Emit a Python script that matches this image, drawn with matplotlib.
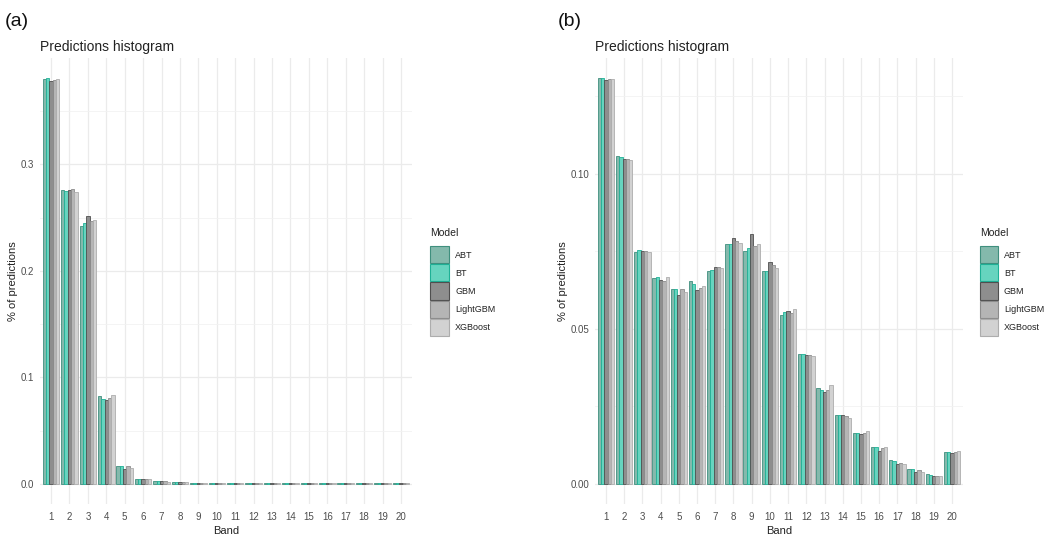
import numpy as np
import matplotlib
matplotlib.use("Agg")
import matplotlib.pyplot as plt
from matplotlib.patches import Rectangle

plt.rcParams['font.family'] = ['Liberation Sans', 'DejaVu Sans']

bands = list(range(1, 21))
models = ["ABT", "BT", "GBM", "LightGBM", "XGBoost"]

# panel (a) - share of predictions per band
a_abt = [0.380, 0.276, 0.242, 0.082, 0.017, 0.0045, 0.0025, 0.0015, 0.0008, 0.0005,
         0.0005, 0.0005, 0.0005, 0.0005, 0.0005, 0.0005, 0.0005, 0.0005, 0.0005, 0.0005]
a_bt = [0.381, 0.275, 0.245, 0.080, 0.017, 0.0045, 0.0025, 0.0015, 0.0008, 0.0005,
        0.0005, 0.0005, 0.0005, 0.0005, 0.0005, 0.0005, 0.0005, 0.0005, 0.0005, 0.0005]
a_gbm = [0.378, 0.276, 0.252, 0.079, 0.014, 0.0045, 0.0025, 0.0015, 0.0010, 0.0005,
         0.0005, 0.0005, 0.0005, 0.0005, 0.0005, 0.0005, 0.0005, 0.0005, 0.0005, 0.0005]
a_light = [0.379, 0.277, 0.247, 0.081, 0.017, 0.0045, 0.0025, 0.0012, 0.0008, 0.0005,
           0.0005, 0.0005, 0.0005, 0.0005, 0.0005, 0.0005, 0.0005, 0.0005, 0.0005, 0.0005]
a_xgb = [0.380, 0.274, 0.248, 0.083, 0.015, 0.0040, 0.0020, 0.0012, 0.0008, 0.0005,
         0.0005, 0.0005, 0.0005, 0.0005, 0.0005, 0.0005, 0.0005, 0.0005, 0.0005, 0.0005]

# panel (b)
b_abt = [0.1307, 0.1055, 0.0748, 0.0663, 0.0628, 0.0652, 0.0685, 0.0774, 0.0750, 0.0687,
         0.0543, 0.0419, 0.0307, 0.0222, 0.0164, 0.0120, 0.0075, 0.0047, 0.0030, 0.0103]
b_bt = [0.1307, 0.1052, 0.0753, 0.0668, 0.0628, 0.0644, 0.0688, 0.0774, 0.0761, 0.0687,
        0.0555, 0.0419, 0.0302, 0.0221, 0.0162, 0.0119, 0.0073, 0.0046, 0.0029, 0.0103]
b_gbm = [0.1300, 0.1048, 0.0750, 0.0657, 0.0608, 0.0626, 0.0700, 0.0791, 0.0805, 0.0715,
         0.0556, 0.0414, 0.0297, 0.0220, 0.0161, 0.0105, 0.0065, 0.0039, 0.0025, 0.0099]
b_light = [0.1304, 0.1047, 0.0750, 0.0652, 0.0627, 0.0630, 0.0699, 0.0784, 0.0767, 0.0704,
           0.0549, 0.0416, 0.0302, 0.0219, 0.0162, 0.0116, 0.0067, 0.0045, 0.0026, 0.0103]
b_xgb = [0.1304, 0.1045, 0.0748, 0.0667, 0.0617, 0.0637, 0.0694, 0.0777, 0.0774, 0.0694,
         0.0563, 0.0413, 0.0318, 0.0213, 0.0170, 0.0119, 0.0063, 0.0037, 0.0025, 0.0106]

fills = ["#84b9ac", "#66d4bf", "#8e8e8e", "#b5b5b5", "#d2d2d2"]
edges = ["#3f8f7e", "#1fb096", "#4f4f4f", "#8c8c8c", "#adadad"]

W, H = 1055, 537


def px_axes(fig, x0, x1, y0, y1):
    return fig.add_axes([x0 / W, (H - y1) / H, (x1 - x0) / W, (y1 - y0) / H])


def draw_panel(ax, series, major, minor, fmt):
    x = np.arange(len(bands))
    width = 0.9 / len(series)
    for i, vals in enumerate(series):
        offs = (i - (len(series) - 1) / 2) * width
        ax.bar(x + offs, vals, width=width, color=fills[i], edgecolor=edges[i],
               linewidth=0.6, zorder=3)
    ymax = max(max(s) for s in series)
    ax.set_ylim(-0.05 * ymax, 1.05 * ymax)
    ax.set_xlim(-0.6, len(bands) - 0.4)
    ax.set_xticks(x)
    ax.set_xticklabels([str(b) for b in bands])
    ax.set_yticks(major)
    ax.set_yticklabels([fmt.format(v) for v in major])
    ax.set_yticks(minor, minor=True)
    ax.grid(True, which="major", color="#ebebeb", linewidth=0.9, zorder=0)
    ax.grid(True, which="minor", axis="y", color="#f2f2f2", linewidth=0.6, zorder=0)
    ax.tick_params(which="both", length=0, labelsize=7, colors="#4d4d4d")
    ax.tick_params(axis="y", pad=4)
    ax.tick_params(axis="x", pad=6)
    for s in ax.spines.values():
        s.set_visible(False)
    ax.set_xlabel("Band", fontsize=8, color="#222222", labelpad=3)
    ax.set_ylabel("% of predictions", fontsize=8, color="#222222", labelpad=2)
    ax.set_title("Predictions histogram", loc="left", fontsize=10,
                 color="#222222", pad=5)


def draw_legend(fig, x, y, key_w=18, row_h=18.2):
    # legend laid out in figure pixels, like the ggplot guide
    fig.text(x / W, 1 - y / H, "Model", fontsize=7.5, color="#222222",
             ha="left", va="center")
    top = y + 13
    for i, name in enumerate(models):
        y0 = top + i * row_h
        fig.patches.append(Rectangle((x / W, 1 - (y0 + row_h - 1) / H),
                                     key_w / W, (row_h - 1) / H,
                                     transform=fig.transFigure,
                                     facecolor=fills[i], edgecolor=edges[i],
                                     linewidth=0.8))
        fig.text((x + key_w + 6) / W, 1 - (y0 + row_h / 2) / H, name,
                 fontsize=6.5, color="#222222", ha="left", va="center")


fig = plt.figure(figsize=(W / 100, H / 100), dpi=100)

ax_a = px_axes(fig, 40, 412, 58, 504)
draw_panel(ax_a, [a_abt, a_bt, a_gbm, a_light, a_xgb],
           [0.0, 0.1, 0.2, 0.3], [0.05, 0.15, 0.25, 0.35], "{:.1f}")
draw_legend(fig, 430, 233, key_w=19)

ax_b = px_axes(fig, 595, 963, 58, 504)
draw_panel(ax_b, [b_abt, b_bt, b_gbm, b_light, b_xgb],
           [0.0, 0.05, 0.10], [0.025, 0.075, 0.125], "{:.2f}")
draw_legend(fig, 980, 233, key_w=18)

fig.text(5 / W, 1 - 21 / H, "(a)", fontsize=14, va="center", ha="left", color="#111111")
fig.text(558 / W, 1 - 21 / H, "(b)", fontsize=14, va="center", ha="left", color="#111111")

fig.savefig("out.png", dpi=100, facecolor="white")
